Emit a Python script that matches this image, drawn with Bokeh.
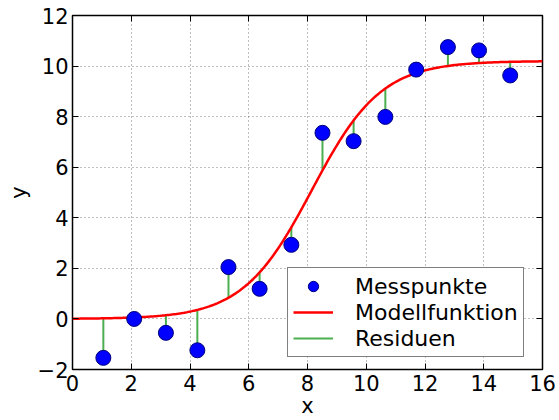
import numpy as np
from bokeh.plotting import figure
from bokeh.models import (LinearAxis, FixedTicker, Legend, LegendItem, Range1d,
                          ColumnDataSource)
from bokeh.embed import file_html
from bokeh.resources import INLINE

x_data = [1.05, 2.10, 3.18, 4.25, 5.31, 6.37, 7.45, 8.51, 9.57, 10.65, 11.70, 12.78, 13.84, 14.90]
y_data = [-1.54, 0.00, -0.55, -1.24, 2.05, 1.19, 2.93, 7.36, 7.03, 7.99, 9.86, 10.75, 10.62, 9.63]

# Logistic model parameters
model_A = 10.2
model_k = 0.85
model_x0 = 8.15

x_ticks = [0, 2, 4, 6, 8, 10, 12, 14, 16]
y_ticks = [-2, 0, 2, 4, 6, 8, 10, 12]


def model(x):
    x = np.asarray(x, dtype=float)
    return model_A / (1.0 + np.exp(-model_k * (x - model_x0)))


FONT = "DejaVu Sans"

p = figure(width=559, height=420, output_backend="svg", toolbar_location=None,
           x_range=Range1d(0, 16), y_range=Range1d(-2, 12),
           min_border_left=72, min_border_right=17, min_border_top=15,
           min_border_bottom=50)
p.background_fill_color = "white"
p.border_fill_color = "white"
p.outline_line_color = "black"
p.outline_line_width = 1.5

for ax, ticks in ((p.xaxis[0], x_ticks), (p.yaxis[0], y_ticks)):
    ax.ticker = FixedTicker(ticks=ticks)
    ax.major_tick_in = 6
    ax.major_tick_out = 0
    ax.minor_tick_line_color = None
    ax.axis_line_color = None
    ax.major_label_text_font = FONT
    ax.major_label_text_font_size = "21px"
    ax.major_label_text_color = "black"
    ax.axis_label_text_font = FONT
    ax.axis_label_text_font_size = "21px"
    ax.axis_label_text_font_style = "normal"
    ax.axis_label_text_color = "black"
    ax.major_label_standoff = 5

p.xaxis[0].axis_label = "x"
p.xaxis[0].axis_label_standoff = 0
p.yaxis[0].axis_label = "y"
p.yaxis[0].axis_label_standoff = 4
p.yaxis[0].major_label_standoff = 4

# Ticks on top and right, no labels
top = LinearAxis(ticker=FixedTicker(ticks=x_ticks))
right = LinearAxis(ticker=FixedTicker(ticks=y_ticks))
for ax in (top, right):
    ax.major_tick_in = 6
    ax.major_tick_out = 0
    ax.minor_tick_line_color = None
    ax.axis_line_color = None
    ax.major_label_text_color = None
    ax.major_label_text_font_size = "1px"
    ax.major_label_standoff = 0
p.add_layout(top, "above")
p.add_layout(right, "right")

for g in (p.xgrid[0], p.ygrid[0]):
    g.grid_line_color = "black"
    g.grid_line_alpha = 0.5
    g.grid_line_dash = "1 3"
    g.grid_line_width = 1

src = ColumnDataSource(dict(x=x_data, y=y_data, ym=model(x_data)))
res = p.segment(x0="x", y0="y", x1="x", y1="ym", source=src,
                line_color="#4caf50", line_width=2)

xc = np.linspace(0, 16, 300)
line = p.line(xc, model(xc), line_color="#ff0000", line_width=2.5)

pts = p.scatter(x="x", y="y", source=src, size=15, fill_color="#0000ff",
                line_color="#00007a", line_width=1)

legend = Legend(items=[LegendItem(label="Messpunkte", renderers=[pts]),
                       LegendItem(label="Modellfunktion", renderers=[line]),
                       LegendItem(label="Residuen", renderers=[res])],
                location=(215, 12))
legend.label_text_font = FONT
legend.label_text_font_size = "22px"
legend.label_text_color = "black"
legend.glyph_width = 40
legend.glyph_height = 26
legend.label_standoff = 22
legend.label_height = 22
legend.spacing = 0
legend.padding = 5
legend.margin = 0
legend.border_line_color = "black"
legend.border_line_width = 1.5
legend.background_fill_alpha = 1
p.add_layout(legend, "center")

open("out.html", "w").write(file_html(p, INLINE))
